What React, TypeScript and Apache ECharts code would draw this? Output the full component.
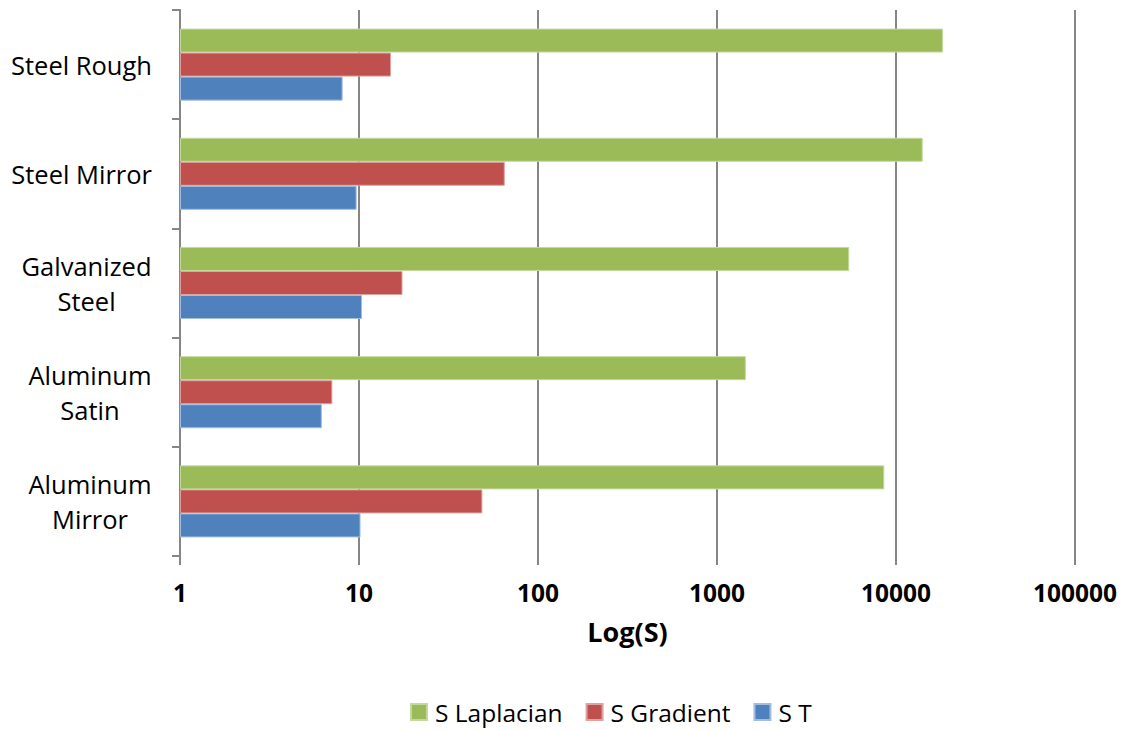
import React, { useEffect, useRef } from "react";
import * as echarts from "echarts";

const categories = ["Steel Rough", "Steel Mirror", "Galvanized\nSteel", "Aluminum\nSatin", "Aluminum\nMirror"];
const seriesNames = ["S Laplacian", "S Gradient", "S T"];
const laplacian = [18300, 14100, 5480, 1450, 8600];
const gradient = [15.1, 65.2, 17.5, 7.1, 48.9];
const sT = [8.1, 9.7, 10.4, 6.2, 10.2];
const xMin = 1;
const xMax = 100000;
const axisTitle = "Log(S)";

const colors = ["#9BBB59", "#C0504D", "#4F81BD"];
const borders = ["#C4D9A0", "#DDA3A1", "#A3BDE0"];
const FONT = '"Open Sans", sans-serif';
const LABEL_SIZE = 25.5;

function measure(text: string, font: string): number {
  const c = document.createElement("canvas").getContext("2d");
  if (!c) return text.length * 12;
  c.font = font;
  return c.measureText(text).width;
}

export default function App() {
  const ref = useRef<HTMLDivElement>(null);
  useEffect(() => {
    if (!ref.current) return;
    const chart = echarts.init(ref.current, undefined, { renderer: "svg" });
    const rich: Record<string, any> = {};
    categories.forEach((cat, i) => {
      const lines = cat.split("\n");
      if (lines.length > 1) {
        const w = Math.max(...lines.map((l) => measure(l, `${LABEL_SIZE}px ${FONT}`)));
        rich["c" + i] = {
          width: Math.ceil(w),
          align: "center",
          fontSize: LABEL_SIZE,
          fontFamily: FONT,
          color: "#000",
          lineHeight: 35,
        };
      }
    });
    const dataSets = [laplacian, gradient, sT];
    chart.setOption({
      animation: false,
      textStyle: { fontFamily: FONT },
      grid: { left: 180, right: 56, top: 10, bottom: 174 },
      legend: {
        data: seriesNames,
        left: 405,
        top: 692,
        itemWidth: 16,
        itemHeight: 16,
        itemGap: 23,
        icon: "rect",
        textStyle: { fontSize: 24.5, lineHeight: 30, color: "#000", fontFamily: FONT, padding: [0, 0, 0, 3] },
      },
      xAxis: {
        type: "log",
        logBase: 10,
        min: xMin,
        max: xMax,
        name: axisTitle,
        nameLocation: "middle",
        nameGap: 62,
        nameTextStyle: { fontSize: 27, fontWeight: "bold", color: "#000", fontFamily: FONT },
        axisLine: { show: false },
        axisTick: { show: true, length: 9, lineStyle: { color: "#868686", width: 2 } },
        splitLine: { show: true, lineStyle: { color: "#868686", width: 2 } },
        axisLabel: {
          fontSize: 24.5,
          fontWeight: "bold",
          color: "#000",
          margin: 24,
          fontFamily: FONT,
          formatter: (v: number) => String(Math.round(v)),
        },
      },
      yAxis: {
        type: "category",
        inverse: true,
        data: categories,
        axisLine: { show: true, lineStyle: { color: "#868686", width: 2 } },
        axisTick: { show: true, length: 8, lineStyle: { color: "#868686", width: 2 } },
        axisLabel: {
          fontSize: LABEL_SIZE,
          color: "#000",
          margin: 28,
          fontFamily: FONT,
          lineHeight: 35,
          rich,
          formatter: (v: string, i: number) => {
            const lines = v.split("\n");
            if (lines.length === 1) return v;
            return lines.map((l) => `{c${i}|${l}}`).join("\n");
          },
        },
      },
      series: seriesNames.map((name, k) => ({
        name,
        type: "bar",
        data: dataSets[k],
        barGap: "0%",
        barCategoryGap: "34%",
        itemStyle: { color: colors[k], borderColor: borders[k], borderWidth: 1 },
      })),
    });
    return () => chart.dispose();
  }, []);
  return <div ref={ref} style={{ position: "fixed", left: 0, top: 0, width: 1131, height: 730, background: "#fff" }} />;
}
